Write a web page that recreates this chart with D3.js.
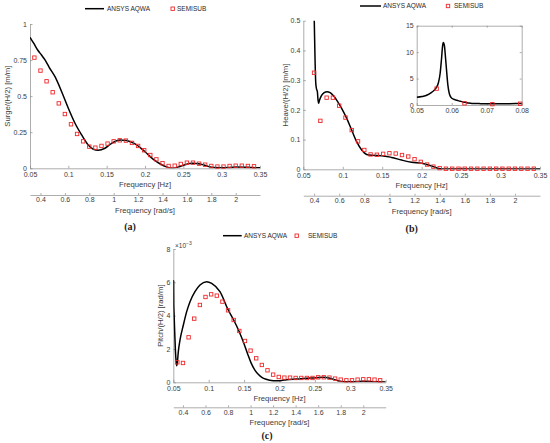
<!DOCTYPE html>
<html lang="en">
<head>
<meta charset="UTF-8">
<title>RAO comparison</title>
<script src="https://cdn.jsdelivr.net/npm/d3@7"></script>
<style>
  body { margin: 0; background: #fff; }
  svg { display: block; font-family: Arial, "Liberation Sans", sans-serif; }
  .axis path, .axis line { stroke: #8a8a8a; stroke-width: 0.7; }
  .axis text { fill: #3c3c3c; font-size: 7px; font-family: Arial, "Liberation Sans", sans-serif; }
  .lbl { fill: #3c3c3c; font-size: 7.7px; }
  .leg { fill: #2a2a2a; font-size: 6.5px; }
  .cap { font-family: "Liberation Serif", "Times New Roman", serif; font-weight: bold; font-size: 10px; fill: #222; }
</style>
</head>
<body>
<div id="chart"></div>
<script>
// SEMISUB points, wave frequency in rad/s
const semiOmega = [0.35, 0.40, 0.45, 0.50, 0.55, 0.60, 0.65, 0.70, 0.75, 0.80,
  0.85, 0.90, 0.95, 1.00, 1.05, 1.10, 1.15, 1.20, 1.25, 1.30,
  1.35, 1.40, 1.45, 1.50, 1.55, 1.60, 1.65, 1.70, 1.75, 1.80,
  1.85, 1.90, 1.95, 2.00, 2.05, 2.10, 2.15]
const surgeSemi = [0.767, 0.677, 0.603, 0.527, 0.450, 0.376, 0.305, 0.238, 0.187, 0.150,
  0.143, 0.155, 0.171, 0.187, 0.194, 0.192, 0.176, 0.155, 0.125, 0.092,
  0.062, 0.035, 0.016, 0.018, 0.030, 0.039, 0.039, 0.032, 0.025, 0.016,
  0.012, 0.012, 0.016, 0.018, 0.018, 0.016, 0.014]
const heaveSemi = [3.1, 0.325, 0.163, 0.241, 0.241, 0.214, 0.174, 0.132, 0.094, 0.065,
  0.050, 0.049, 0.052, 0.054, 0.053, 0.048, 0.043, 0.034, 0.025, 0.016,
  0.009, 0.004, 0.002, 0.002, 0.002, 0.002, 0.002, 0.002, 0.002, 0.002,
  0.002, 0.002, 0.002, 0.002, 0.002, 0.002, 0.002]
// pitch in 1e-3 rad/m
const pitchSemi = [1.2, 1.16, 2.7, 3.82, 4.64, 5.12, 5.28, 5.2, 4.84, 4.32,
  3.74, 3.08, 2.48, 1.9, 1.44, 1.04, 0.72, 0.46, 0.32, 0.28,
  0.28, 0.26, 0.26, 0.26, 0.26, 0.3, 0.3, 0.28, 0.22, 0.16,
  0.12, 0.12, 0.16, 0.18, 0.18, 0.16, 0.12]

// ANSYS AQWA curves, frequency in Hz
const surgeFreq = [0.05, 0.055, 0.06, 0.065, 0.0696, 0.075, 0.0826, 0.0913, 0.1, 0.1087,
  0.1174, 0.126, 0.1326, 0.139, 0.1478, 0.1565, 0.1674, 0.176, 0.187, 0.2,
  0.2109, 0.22, 0.228, 0.236, 0.244, 0.252, 0.262, 0.272, 0.28, 0.29,
  0.3, 0.31, 0.32, 0.33, 0.34, 0.35]
const surgeAqwa = [0.908, 0.865, 0.82, 0.785, 0.751, 0.70, 0.635, 0.531, 0.416, 0.312,
  0.231, 0.162, 0.132, 0.125, 0.139, 0.173, 0.196, 0.192, 0.169, 0.115,
  0.062, 0.03, 0.01, 0.001, 0.01, 0.025, 0.035, 0.03, 0.017, 0.005,
  0.004, 0.006, 0.009, 0.008, 0.005, 0.004]

const heaveFreq = [0.05, 0.0515, 0.0525, 0.0535, 0.0545, 0.0555, 0.0562, 0.0567, 0.0571, 0.0574,
  0.0576, 0.0579, 0.0582, 0.0585, 0.0589, 0.0593, 0.0598, 0.0605, 0.0615, 0.0625,
  0.0632, 0.0639, 0.0648, 0.0658, 0.0668, 0.0678, 0.0686, 0.0694, 0.0705, 0.073,
  0.0765, 0.08, 0.084, 0.088, 0.0923, 0.0986, 0.1049, 0.1113, 0.1176, 0.124,
  0.1303, 0.1366, 0.1493, 0.162, 0.1746, 0.1873, 0.2, 0.2085, 0.2148, 0.2211,
  0.225, 0.25, 0.3, 0.35]
const heaveAqwa = [1.45, 1.6, 1.75, 2.05, 2.5, 3.2, 4.2, 6.0, 8.8, 11.2,
  11.8, 11.3, 9.2, 6.8, 3.8, 2.2, 1.45, 1.1, 0.9, 0.7,
  0.58, 0.5, 0.38, 0.29, 0.27, 0.262, 0.235, 0.222, 0.232, 0.248,
  0.258, 0.261, 0.258, 0.248, 0.233, 0.205, 0.172, 0.132, 0.093, 0.065,
  0.05, 0.047, 0.046, 0.04, 0.031, 0.0235, 0.02, 0.0146, 0.009, 0.003,
  0.001, 0.001, 0.001, 0.001]

const pitchFreq = [0.05, 0.0502, 0.0504, 0.0506, 0.051, 0.052, 0.053, 0.054, 0.0548, 0.0556,
  0.0571, 0.0595, 0.0642, 0.0689, 0.0736, 0.0806, 0.0877, 0.0971, 0.1042, 0.1159,
  0.1276, 0.1353, 0.143, 0.15, 0.155, 0.16, 0.165, 0.17, 0.175, 0.181,
  0.1913, 0.2007, 0.21, 0.2243, 0.2384, 0.2525, 0.262, 0.2714, 0.2808, 0.2902,
  0.3043, 0.3185, 0.3326, 0.35]
const pitchAqwa = [6.14, 4.75, 6.05, 4.7, 4.2, 3.0, 1.9, 1.25, 1.0, 1.15,
  1.84, 2.54, 3.44, 4.24, 4.84, 5.44, 5.84, 6.04, 5.94, 5.44,
  4.34, 3.74, 3.05, 2.3, 1.7, 1.15, 0.75, 0.48, 0.3, 0.18,
  0.1, 0.1, 0.16, 0.2, 0.24, 0.28, 0.3, 0.24, 0.12, 0.04,
  0.04, 0.06, 0.04, 0.02]

// tick labels
const hzTicks = [0.05, 0.1, 0.15, 0.2, 0.25, 0.3, 0.35]
const hzLabels = ['0.05', '0.1', '0.15', '0.2', '0.25', '0.3', '0.35']
const radTicks = [0.4, 0.6, 0.8, 1.0, 1.2, 1.4, 1.6, 1.8, 2.0]
const radLabels = ['0.4', '0.6', '0.8', '1', '1.2', '1.4', '1.6', '1.8', '2']
const surgeTicks = [0, 0.25, 0.5, 0.75, 1]
const surgeLabels = ['0', '0.25', '0.5', '0.75', '1']
const heaveTicks = [0, 0.1, 0.2, 0.3, 0.4, 0.5]
const heaveLabels = ['0', '0.1', '0.2', '0.3', '0.4', '0.5']
const pitchTicks = [0, 2, 4, 6, 8]
const pitchLabels = ['0', '2', '4', '6', '8']
const insetXTicks = [0.05, 0.06, 0.07, 0.08]
const insetXLabels = ['0.05', '0.06', '0.07', '0.08']
const insetYTicks = [0, 5, 10, 15]
const insetYLabels = ['0', '5', '10', '15']

const width = 550
const height = 443
const red = '#f0282a'

const svg = d3.select('#chart')
  .append('svg')
  .attr('width', width)
  .attr('height', height)

const zip = (a, b) => a.map((v, i) => [v, b[i]])

function drawPanel(p) {
  const x = d3.scaleLinear().domain([0.05, 0.35]).range([p.left, p.right])
  const y = d3.scaleLinear().domain(p.yDomain).range([p.bottom, p.top])

  svg.append('clipPath').attr('id', 'clip-' + p.id)
    .append('rect')
    .attr('x', p.left).attr('y', p.top)
    .attr('width', p.right - p.left).attr('height', p.bottom - p.top)

  svg.append('g')
    .attr('class', 'axis')
    .attr('transform', `translate(0,${p.bottom})`)
    .call(d3.axisBottom(x).tickValues(hzTicks).tickFormat((d, i) => hzLabels[i])
      .tickSizeInner(-2.5).tickSizeOuter(0).tickPadding(4))

  svg.append('g')
    .attr('class', 'axis')
    .attr('transform', `translate(${p.left},0)`)
    .call(d3.axisLeft(y).tickValues(p.yTicks).tickFormat((d, i) => p.yLabels[i])
      .tickSizeInner(-2.5).tickSizeOuter(0).tickPadding(3))

  // second axis in rad/s
  const xr = d3.scaleLinear().domain([2 * Math.PI * 0.05, 2 * Math.PI * 0.35]).range([p.left, p.right])
  svg.append('g')
    .attr('class', 'axis')
    .attr('transform', `translate(0,${p.radAxis})`)
    .call(d3.axisBottom(xr).tickValues(radTicks).tickFormat((d, i) => radLabels[i])
      .tickSizeInner(-2).tickSizeOuter(0).tickPadding(p.radPad))

  const cx = (p.left + p.right) / 2
  svg.append('text').attr('class', 'lbl')
    .attr('x', cx).attr('y', p.hzLabelY)
    .attr('text-anchor', 'middle')
    .text('Frequency [Hz]')
  svg.append('text').attr('class', 'lbl')
    .attr('x', cx).attr('y', p.radLabelY)
    .attr('text-anchor', 'middle')
    .text('Frequency [rad/s]')
  svg.append('text').attr('class', 'lbl')
    .attr('transform', `translate(${p.yLabelX},${(p.top + p.bottom) / 2}) rotate(-90)`)
    .attr('text-anchor', 'middle')
    .text(p.yTitle)

  const line = d3.line()
    .x(d => x(d[0]))
    .y(d => y(d[1]))
    .curve(d3.curveMonotoneX)

  svg.append('path')
    .datum(zip(p.freq, p.aqwa))
    .attr('clip-path', `url(#clip-${p.id})`)
    .attr('d', line)
    .attr('fill', 'none')
    .attr('stroke', '#000')
    .attr('stroke-width', 1.5)

  const pts = zip(semiOmega.map(w => w / (2 * Math.PI)), p.semi)
    .filter(d => d[1] <= p.yDomain[1])
  svg.append('g')
    .selectAll('rect')
    .data(pts)
    .enter()
    .append('rect')
    .attr('x', d => x(d[0]) - 1.7)
    .attr('y', d => y(d[1]) - 1.7)
    .attr('width', 3.4)
    .attr('height', 3.4)
    .attr('fill', 'none')
    .attr('stroke', red)
    .attr('stroke-width', 0.9)

  // legend
  const lg = svg.append('g')
  lg.append('line')
    .attr('x1', p.legend.line[0]).attr('x2', p.legend.line[1])
    .attr('y1', p.legend.y).attr('y2', p.legend.y)
    .attr('stroke', '#000').attr('stroke-width', 1.5)
  lg.append('text').attr('class', 'leg')
    .attr('x', p.legend.text1).attr('y', p.legend.y + 2.3)
    .text('ANSYS AQWA')
  lg.append('rect')
    .attr('x', p.legend.marker - 1.7).attr('y', p.legend.y - 1.7)
    .attr('width', 3.4).attr('height', 3.4)
    .attr('fill', 'none').attr('stroke', red).attr('stroke-width', 0.9)
  lg.append('text').attr('class', 'leg')
    .attr('x', p.legend.text2).attr('y', p.legend.y + 2.3)
    .text('SEMISUB')

  svg.append('text').attr('class', 'cap')
    .attr('x', p.caption[0]).attr('y', p.caption[1])
    .attr('text-anchor', 'middle')
    .text(p.capText)

  return { x, y }
}

drawPanel({
  id: 'a', left: 30, right: 260, top: 24, bottom: 168.3,
  yDomain: [0, 1], yTicks: surgeTicks, yLabels: surgeLabels,
  yTitle: 'Surge/(H/2) [m/m]', yLabelX: 10,
  freq: surgeFreq, aqwa: surgeAqwa, semi: surgeSemi,
  hzLabelY: 187.1, radAxis: 195, radPad: 2.5, radLabelY: 212.8,
  legend: { y: 8.7, line: [85, 104], text1: 107, marker: 172.7, text2: 177 },
  caption: [130, 230], capText: '(a)'
})

drawPanel({
  id: 'b', left: 303.3, right: 540, top: 20.7, bottom: 169.3,
  yDomain: [0, 0.5], yTicks: heaveTicks, yLabels: heaveLabels,
  yTitle: 'Heave/(H/2) [m/m]', yLabelX: 287.7,
  freq: heaveFreq, aqwa: heaveAqwa, semi: heaveSemi,
  hzLabelY: 188.3, radAxis: 195.7, radPad: 2.5, radLabelY: 214.4,
  legend: { y: 6, line: [360, 381], text1: 383, marker: 448, text2: 454 },
  caption: [411.7, 231.7], capText: '(b)'
})

drawPanel({
  id: 'c', left: 173.3, right: 385.7, top: 249, bottom: 382.3,
  yDomain: [0, 8], yTicks: pitchTicks, yLabels: pitchLabels,
  yTitle: 'Pitch/(H/2) [rad/m]', yLabelX: 162.7,
  freq: pitchFreq, aqwa: pitchAqwa, semi: pitchSemi,
  hzLabelY: 400.8, radAxis: 407.3, radPad: 3, radLabelY: 425,
  legend: { y: 235.7, line: [223, 241.7], text1: 244, marker: 296.7, text2: 308 },
  caption: [267, 438.5], capText: '(c)'
})

// exponent note of panel (c)
const ex = svg.append('text').attr('class', 'lbl')
  .attr('x', 175).attr('y', 247.5)
  .style('font-size', '6.5px')
ex.append('tspan').text('\u00d710')
ex.append('tspan').attr('dy', -2.5).style('font-size', '5px').text('\u22123')

// inset of panel (b)
const ins = { left: 416.7, right: 521.7, top: 25.7, bottom: 105 }
const ix = d3.scaleLinear().domain([0.05, 0.08]).range([ins.left, ins.right])
const iy = d3.scaleLinear().domain([0, 15]).range([ins.bottom, ins.top])

svg.append('rect')
  .attr('x', ins.left).attr('y', ins.top)
  .attr('width', ins.right - ins.left).attr('height', ins.bottom - ins.top)
  .attr('fill', '#fff')

svg.append('clipPath').attr('id', 'clip-inset')
  .append('rect')
  .attr('x', ins.left).attr('y', ins.top)
  .attr('width', ins.right - ins.left).attr('height', ins.bottom - ins.top)

svg.append('g').attr('class', 'axis')
  .attr('transform', `translate(0,${ins.bottom})`)
  .call(d3.axisBottom(ix).tickValues(insetXTicks).tickFormat((d, i) => insetXLabels[i])
    .tickSizeInner(-2).tickSizeOuter(0).tickPadding(3.5))
svg.append('g').attr('class', 'axis')
  .attr('transform', `translate(0,${ins.top})`)
  .call(d3.axisTop(ix).tickValues(insetXTicks).tickFormat('')
    .tickSizeInner(-2).tickSizeOuter(0))
svg.append('g').attr('class', 'axis')
  .attr('transform', `translate(${ins.left},0)`)
  .call(d3.axisLeft(iy).tickValues(insetYTicks).tickFormat((d, i) => insetYLabels[i])
    .tickSizeInner(-2).tickSizeOuter(0).tickPadding(3))
svg.append('g').attr('class', 'axis')
  .attr('transform', `translate(${ins.right},0)`)
  .call(d3.axisRight(iy).tickValues(insetYTicks).tickFormat('')
    .tickSizeInner(-2).tickSizeOuter(0))

svg.append('path')
  .datum(zip(heaveFreq, heaveAqwa).filter(d => d[0] <= 0.085))
  .attr('clip-path', 'url(#clip-inset)')
  .attr('d', d3.line().x(d => ix(d[0])).y(d => iy(d[1])).curve(d3.curveMonotoneX))
  .attr('fill', 'none')
  .attr('stroke', '#000')
  .attr('stroke-width', 1.5)

svg.append('g')
  .selectAll('rect')
  .data(zip(semiOmega.map(w => w / (2 * Math.PI)), heaveSemi).filter(d => d[0] <= 0.0801))
  .enter()
  .append('rect')
  .attr('x', d => ix(d[0]) - 1.7)
  .attr('y', d => iy(d[1]) - 1.7)
  .attr('width', 3.4)
  .attr('height', 3.4)
  .attr('fill', 'none')
  .attr('stroke', red)
  .attr('stroke-width', 0.9)
</script>
</body>
</html>
